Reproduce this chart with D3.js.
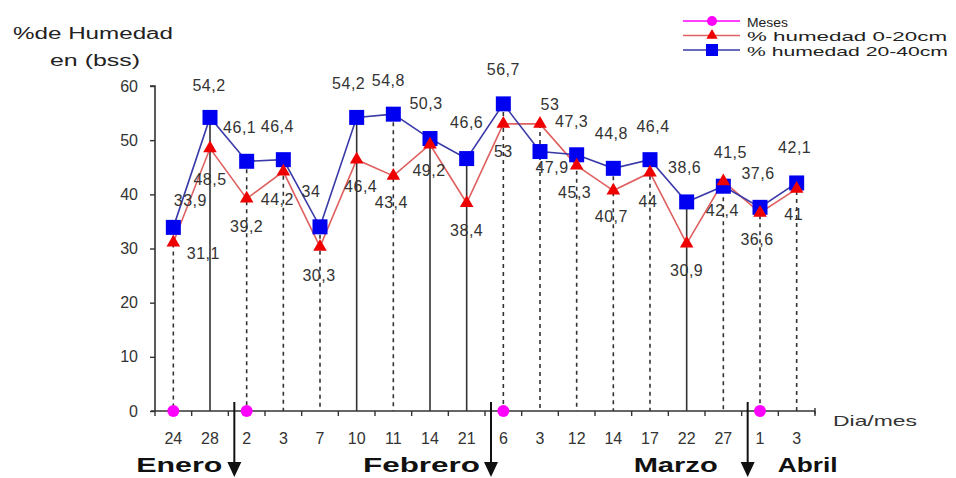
<!DOCTYPE html>
<html>
<head>
<meta charset="utf-8">
<script src="https://cdn.jsdelivr.net/npm/d3@7"></script>
<style>
  html, body { margin: 0; padding: 0; background: #fff; }
  svg { display: block; font-family: "Liberation Sans", Arial, sans-serif; }
</style>
</head>
<body>
<svg id="chart" width="956" height="478"></svg>
<script>
// ---------- data ----------
const categories = ["24","28","2","3","7","10","11","14","21","6","3","12","14","17","22","27","1","3"];
const humedad0_20 = [31.1,48.5,39.2,44.2,30.3,46.4,43.4,49.2,38.4,53,53,45.3,40.7,44,30.9,42.4,36.6,41];
const humedad20_40 = [33.9,54.2,46.1,46.4,34,54.2,54.8,50.3,46.6,56.7,47.9,47.3,44.8,46.4,38.6,41.5,37.6,42.1];
const meses = [0,null,0,null,null,null,null,null,null,0,null,null,null,null,null,null,0,null];
const months = ["Enero","Febrero","Marzo","Abril"];
const monthStartIdx = [2, 9, 16];
const yTicks = [0,10,20,30,40,50,60];
const dropSolid = [false,true,false,false,false,true,false,true,true,false,false,false,false,false,true,false,false,false];

// label offsets (layout only)
const blueLabelOff = [[17,-27],[-1,-32],[-7,-34],[-6,-33],[-9,-35],[-8,-34],[-5,-34],[-4,-35],[0,-36],[0,-34],[12,16],[-5,-33],[-2,-35],[3,-33],[-2,-34],[7,-34],[-2,-34],[-2,-35]];
const redLabelOff = [[30,11],[0,31],[0,28],[-6,28],[-1,29],[4,27],[-2,27],[-1,26],[0,27],[0,28],[10,-19],[-2,27],[-2,26],[-2,29],[0,27],[-1,29],[-3,27],[-3,26]];

// ---------- layout ----------
const svg = d3.select("#chart");
const mLeft = 155, mRight = 815, mTop = 86, mBottom = 411;

const x = d3.scaleBand().domain(d3.range(categories.length)).range([mLeft, mRight]);
const cx = i => x(i) + x.bandwidth() / 2;
const y = d3.scaleLinear().domain([0, 60]).range([mBottom, mTop]);

const fmt = v => String(v).replace(".", ",");
const blueCol = "#0000f0", redCol = "#ee0000", magCol = "#ff00ff";
const blueLine = "#3a3aa8", redLine = "#e06060";

// y-axis title
svg.append("text").attr("x", 13).attr("y", 33).attr("dominant-baseline", "central")
  .attr("font-size", 16).attr("fill", "#222").attr("textLength", 160).attr("lengthAdjust", "spacingAndGlyphs")
  .text("%de Humedad");
svg.append("text").attr("x", 50).attr("y", 60).attr("dominant-baseline", "central")
  .attr("font-size", 16).attr("fill", "#222").attr("textLength", 90).attr("lengthAdjust", "spacingAndGlyphs")
  .text("en (bss)");

// drop lines
const g = svg.append("g");
g.selectAll("line.drop").data(categories).join("line")
  .attr("class", "drop")
  .attr("x1", (d, i) => cx(i)).attr("x2", (d, i) => cx(i))
  .attr("y1", (d, i) => y(Math.max(humedad0_20[i], humedad20_40[i])))
  .attr("y2", y(0))
  .attr("stroke", "#333").attr("stroke-width", 1.6)
  .attr("stroke-dasharray", (d, i) => dropSolid[i] ? null : "4,4");

// y axis
const yAxis = d3.axisLeft(y).tickValues(yTicks).tickSize(5).tickPadding(12).tickFormat(d3.format("d"));
const ya = svg.append("g").attr("transform", `translate(${mLeft},0)`).call(yAxis);
ya.select(".domain").attr("stroke", "#333").attr("stroke-width", 1.6).attr("d", `M-5,${mTop}H0V${mBottom}`);
ya.selectAll(".tick line").attr("stroke", "#333").attr("stroke-width", 1.4);
ya.selectAll(".tick text").attr("font-size", 16).attr("fill", "#333")
  .attr("font-family", "Liberation Sans, Arial, sans-serif");

// x axis
const xa = svg.append("g").attr("transform", `translate(0,${mBottom})`);
xa.append("line").attr("x1", mLeft - 4).attr("x2", mRight).attr("y1", 0).attr("y2", 0)
  .attr("stroke", "#333").attr("stroke-width", 1.6);
xa.selectAll("line.xt").data(d3.range(categories.length + 1)).join("line")
  .attr("class", "xt")
  .attr("x1", i => mLeft + i * x.step()).attr("x2", i => mLeft + i * x.step())
  .attr("y1", 0).attr("y2", 5).attr("stroke", "#333").attr("stroke-width", 1.4);
xa.append("line").attr("x1", mRight).attr("x2", mRight).attr("y1", -3).attr("y2", 3)
  .attr("stroke", "#333").attr("stroke-width", 1.4);
xa.selectAll("text.xl").data(categories).join("text")
  .attr("class", "xl")
  .attr("x", (d, i) => cx(i)).attr("y", 27).attr("text-anchor", "middle")
  .attr("dominant-baseline", "central").attr("font-size", 16).attr("fill", "#333")
  .text(d => d);
svg.append("text").attr("x", 833).attr("y", 420).attr("dominant-baseline", "central")
  .attr("font-size", 15).attr("fill", "#333").attr("textLength", 84).attr("lengthAdjust", "spacingAndGlyphs")
  .text("Dia/mes");

// month arrows
const arrowX = monthStartIdx.map(i => (cx(i - 1) + cx(i)) / 2 + 6);
arrowX.forEach(ax => {
  svg.append("line").attr("x1", ax).attr("x2", ax).attr("y1", 402).attr("y2", 464)
    .attr("stroke", "#111").attr("stroke-width", 2);
  svg.append("path").attr("d", `M${ax - 7},462 L${ax + 7},462 L${ax},477 Z`).attr("fill", "#111");
});
const monthPos = [
  { x: arrowX[0] - 12, anchor: "end", w: 86 },
  { x: arrowX[1] - 11, anchor: "end", w: 117 },
  { x: arrowX[2] - 30, anchor: "end", w: 84 },
  { x: arrowX[2] + 30, anchor: "start", w: 60 }
];
months.forEach((m, i) => {
  const p = monthPos[i];
  const sx = p.anchor === "end" ? p.x - p.w : p.x;
  svg.append("text").attr("x", sx).attr("y", 472)
    .attr("font-size", 21).attr("font-weight", "bold").attr("fill", "#111")
    .attr("textLength", p.w).attr("lengthAdjust", "spacingAndGlyphs")
    .text(m);
});

// series lines
const lineGen = arr => d3.line().x((d, i) => cx(i)).y(d => y(d))(arr);
svg.append("path").attr("d", lineGen(humedad0_20)).attr("fill", "none")
  .attr("stroke", redLine).attr("stroke-width", 1.6);
svg.append("path").attr("d", lineGen(humedad20_40)).attr("fill", "none")
  .attr("stroke", blueLine).attr("stroke-width", 1.6);

// markers
const sq = 15;
svg.selectAll("rect.blue").data(humedad20_40).join("rect")
  .attr("class", "blue")
  .attr("x", (d, i) => cx(i) - sq / 2).attr("y", d => y(d) - sq / 2)
  .attr("width", sq).attr("height", sq).attr("fill", blueCol);
const tri = d3.symbol().type(d3.symbolTriangle).size(80);
svg.selectAll("path.red").data(humedad0_20).join("path")
  .attr("class", "red")
  .attr("transform", (d, i) => `translate(${cx(i)},${y(d)})`)
  .attr("d", tri).attr("fill", redCol);
svg.selectAll("circle.mes").data(meses.map((v, i) => ({ v, i })).filter(d => d.v !== null)).join("circle")
  .attr("class", "mes")
  .attr("cx", d => cx(d.i)).attr("cy", d => y(d.v)).attr("r", 6).attr("fill", magCol);

// data labels
svg.selectAll("text.bl").data(humedad20_40).join("text")
  .attr("class", "bl")
  .attr("x", (d, i) => cx(i) + blueLabelOff[i][0]).attr("y", (d, i) => y(d) + blueLabelOff[i][1])
  .attr("text-anchor", "middle").attr("dominant-baseline", "central")
  .attr("font-size", 16).attr("fill", "#333").attr("letter-spacing", 0.5)
  .text(d => fmt(d));
svg.selectAll("text.rl").data(humedad0_20).join("text")
  .attr("class", "rl")
  .attr("x", (d, i) => cx(i) + redLabelOff[i][0]).attr("y", (d, i) => y(d) + redLabelOff[i][1])
  .attr("text-anchor", "middle").attr("dominant-baseline", "central")
  .attr("font-size", 16).attr("fill", "#333").attr("letter-spacing", 0.5)
  .text(d => fmt(d));

// legend
const legend = [
  { name: "Meses", col: magCol, line: magCol, type: "circle", w: 41 },
  { name: "% humedad  0-20cm", col: redCol, line: redLine, type: "tri", w: 200 },
  { name: "% humedad 20-40cm", col: blueCol, line: blueLine, type: "sq", w: 201 }
];
legend.forEach((l, i) => {
  const ly = 21 + i * 14.5;
  svg.append("line").attr("x1", 683).attr("x2", 740).attr("y1", ly).attr("y2", ly)
    .attr("stroke", l.line).attr("stroke-width", 1.6);
  if (l.type === "circle") svg.append("circle").attr("cx", 712).attr("cy", ly).attr("r", 5).attr("fill", l.col);
  if (l.type === "tri") svg.append("path").attr("transform", `translate(712,${ly})`)
    .attr("d", d3.symbol().type(d3.symbolTriangle).size(55)).attr("fill", l.col);
  if (l.type === "sq") svg.append("rect").attr("x", 706).attr("y", ly - 6).attr("width", 12).attr("height", 12).attr("fill", l.col);
  svg.append("text").attr("x", 747).attr("y", ly + 1).attr("dominant-baseline", "central")
    .attr("font-size", 13).attr("fill", "#222").attr("textLength", l.w).attr("lengthAdjust", "spacingAndGlyphs")
    .text(l.name);
});
</script>
</body>
</html>
